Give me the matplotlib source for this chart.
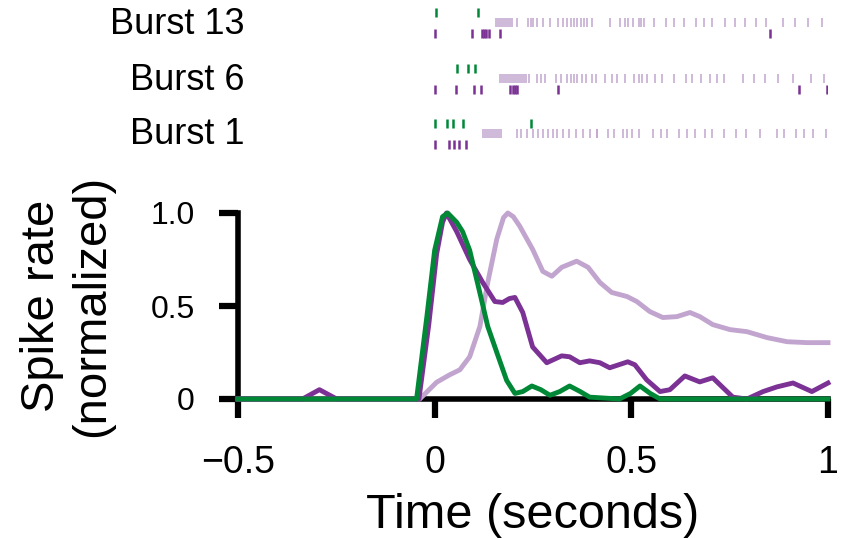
import numpy as np
import matplotlib
matplotlib.use("Agg")
import matplotlib.pyplot as plt

plt.rcParams["font.family"] = ["Liberation Sans", "DejaVu Sans"]

# colours (PRGn-like)
C_DARK = "#7b3294"
C_LIGHT = "#c2a5cf"
C_GREEN = "#008837"

# --- normalized spike-rate curves ---
light_t = [-0.5, -0.038, 0.005, 0.038, 0.064, 0.089, 0.115, 0.135, 0.158, 0.175, 0.186,
           0.2, 0.216, 0.249, 0.275, 0.298, 0.323, 0.361, 0.39, 0.42, 0.45, 0.489, 0.514,
           0.547, 0.58, 0.616, 0.649, 0.674, 0.707, 0.751, 0.794, 0.845, 0.896, 0.947, 1.0]
light_y = [0, 0, 0.09, 0.13, 0.157, 0.227, 0.39, 0.627, 0.86, 0.975, 1.0,
           0.98, 0.93, 0.805, 0.686, 0.66, 0.708, 0.741, 0.708, 0.627, 0.573, 0.551, 0.524,
           0.47, 0.438, 0.443, 0.465, 0.443, 0.4, 0.373, 0.362, 0.33, 0.308, 0.303, 0.303]

green_t = [-0.5, -0.046, -0.02, 0.0, 0.02, 0.033, 0.056, 0.071, 0.089, 0.115, 0.135,
           0.158, 0.183, 0.204, 0.224, 0.247, 0.27, 0.293, 0.318, 0.343, 0.37, 0.394,
           0.47, 0.498, 0.522, 0.548, 0.573, 1.0]
green_y = [0, 0, 0.44, 0.8, 0.98, 1.0, 0.95, 0.9, 0.8, 0.57, 0.39,
           0.25, 0.1, 0.03, 0.04, 0.07, 0.05, 0.02, 0.04, 0.07, 0.04, 0.01,
           0, 0.03, 0.07, 0.03, 0, 0]

dark_t = [-0.5, -0.336, -0.293, -0.249, -0.04, -0.015, 0.005, 0.02, 0.03, 0.056, 0.089,
          0.122, 0.153, 0.173, 0.19, 0.204, 0.224, 0.249, 0.285, 0.323, 0.343, 0.369,
          0.394, 0.42, 0.445, 0.491, 0.509, 0.539, 0.573, 0.598, 0.636, 0.674, 0.707,
          0.758, 0.794, 0.835, 0.87, 0.911, 0.959, 1.0]
dark_y = [0, 0, 0.05, 0, 0, 0.4, 0.78, 0.95, 1.0, 0.9, 0.75,
          0.627, 0.524, 0.519, 0.54, 0.546, 0.465, 0.28, 0.195, 0.232, 0.227, 0.195,
          0.205, 0.195, 0.168, 0.2, 0.184, 0.103, 0.04, 0.05, 0.124, 0.092, 0.114,
          0.01, 0, 0.04, 0.065, 0.086, 0.04, 0.086]

# --- raster spike times (s) for three example bursts ---
burst_names = ["Burst 13", "Burst 6", "Burst 1"]
green_spikes = [
    [0.003, 0.109],
    [0.056, 0.084, 0.102],
    [0.0, 0.031, 0.046, 0.071, 0.244],
]
dark_spikes = [
    [0.0, 0.094, 0.120, 0.125, 0.130, 0.137, 0.165, 0.852],
    [0.0, 0.053, 0.099, 0.117, 0.191, 0.198, 0.204, 0.209, 0.313, 0.926, 0.997],
    [0.0, 0.036, 0.048, 0.061, 0.079],
]
light_spikes = [
    [0.155, 0.160, 0.165, 0.170, 0.176, 0.181, 0.186, 0.191, 0.196, 0.209, 0.237,
     0.244, 0.249, 0.260, 0.275, 0.293, 0.313, 0.326, 0.336, 0.346, 0.354, 0.361,
     0.372, 0.379, 0.387, 0.399, 0.445, 0.471, 0.483, 0.491, 0.504, 0.519, 0.524,
     0.532, 0.557, 0.588, 0.608, 0.634, 0.664, 0.685, 0.705, 0.738, 0.763, 0.789,
     0.817, 0.842, 0.885, 0.916, 0.949, 0.985],
    [0.165, 0.170, 0.175, 0.181, 0.186, 0.191, 0.196, 0.201, 0.206, 0.211, 0.216,
     0.221, 0.226, 0.232, 0.239, 0.260, 0.270, 0.280, 0.308, 0.321, 0.336, 0.346,
     0.354, 0.361, 0.374, 0.384, 0.399, 0.410, 0.433, 0.450, 0.463, 0.483, 0.506,
     0.519, 0.527, 0.539, 0.560, 0.578, 0.608, 0.639, 0.654, 0.677, 0.700, 0.718,
     0.735, 0.784, 0.812, 0.840, 0.873, 0.911, 0.957, 0.990],
    [0.122, 0.127, 0.132, 0.137, 0.142, 0.148, 0.153, 0.158, 0.163, 0.168, 0.209,
     0.219, 0.234, 0.249, 0.262, 0.275, 0.288, 0.300, 0.310, 0.326, 0.341, 0.359,
     0.376, 0.394, 0.412, 0.412, 0.440, 0.455, 0.478, 0.489, 0.501, 0.519, 0.555,
     0.575, 0.591, 0.621, 0.641, 0.661, 0.687, 0.705, 0.735, 0.765, 0.791, 0.826,
     0.870, 0.888, 0.918, 0.939, 0.963, 0.995],
]

fig = plt.figure(figsize=(8.41, 5.38), dpi=100)

# main rate plot
ax = fig.add_axes([238 / 841, 139 / 538, 590 / 841, 186 / 538])
ax.plot(light_t, light_y, color=C_LIGHT, lw=3.5, clip_on=False, zorder=3,
        solid_joinstyle="round")
ax.plot(dark_t, dark_y, color=C_DARK, lw=3.5, clip_on=False, zorder=4,
        solid_joinstyle="round")
ax.plot(green_t, green_y, color=C_GREEN, lw=3.5, clip_on=False, zorder=5,
        solid_joinstyle="round")
ax.set_xlim(-0.5, 1.0)
ax.set_ylim(0, 1.0)
ax.set_xticks([-0.5, 0, 0.5, 1])
ax.set_xticklabels(["\u22120.5", "0", "0.5", "1"])
ax.set_yticks([0, 0.5, 1.0])
ax.set_yticklabels(["0", "0.5", "1.0"])
for s in ["top", "right"]:
    ax.spines[s].set_visible(False)
for s in ["left", "bottom"]:
    ax.spines[s].set_linewidth(4)
ax.tick_params(axis="both", length=14, width=4.5, color="black")
ax.tick_params(axis="x", pad=19, labelsize=27)
ax.tick_params(axis="y", pad=17, labelsize=23)
ax.set_xlabel("Time (seconds)", fontsize=35, labelpad=9)
fig.text(67 / 841, 1 - 306 / 538, "Spike rate\n(normalized)", rotation=90,
         ha="center", va="center", multialignment="center", fontsize=34,
         linespacing=1.2)

# raster of example bursts
axr = fig.add_axes([238 / 841, 1 - 155 / 538, 590 / 841, 155 / 538])
axr.set_xlim(-0.5, 1.0)
axr.set_ylim(155, 0)
axr.axis("off")
row_y = [22, 78, 133]
half = 4.5
for i, name in enumerate(burst_names):
    y0 = row_y[i]
    axr.vlines(green_spikes[i], y0 - 10 - half, y0 - 10 + half, color=C_GREEN, lw=1.8)
    axr.vlines(light_spikes[i], y0 - half, y0 + half, color=C_LIGHT, lw=1.1)
    axr.vlines(dark_spikes[i], y0 + 11 - half, y0 + 11 + half, color=C_DARK, lw=1.8)
    axr.text(-0.483, y0 + 2, name, ha="right", va="center", fontsize=26)

fig.savefig("out.png", dpi=100)
